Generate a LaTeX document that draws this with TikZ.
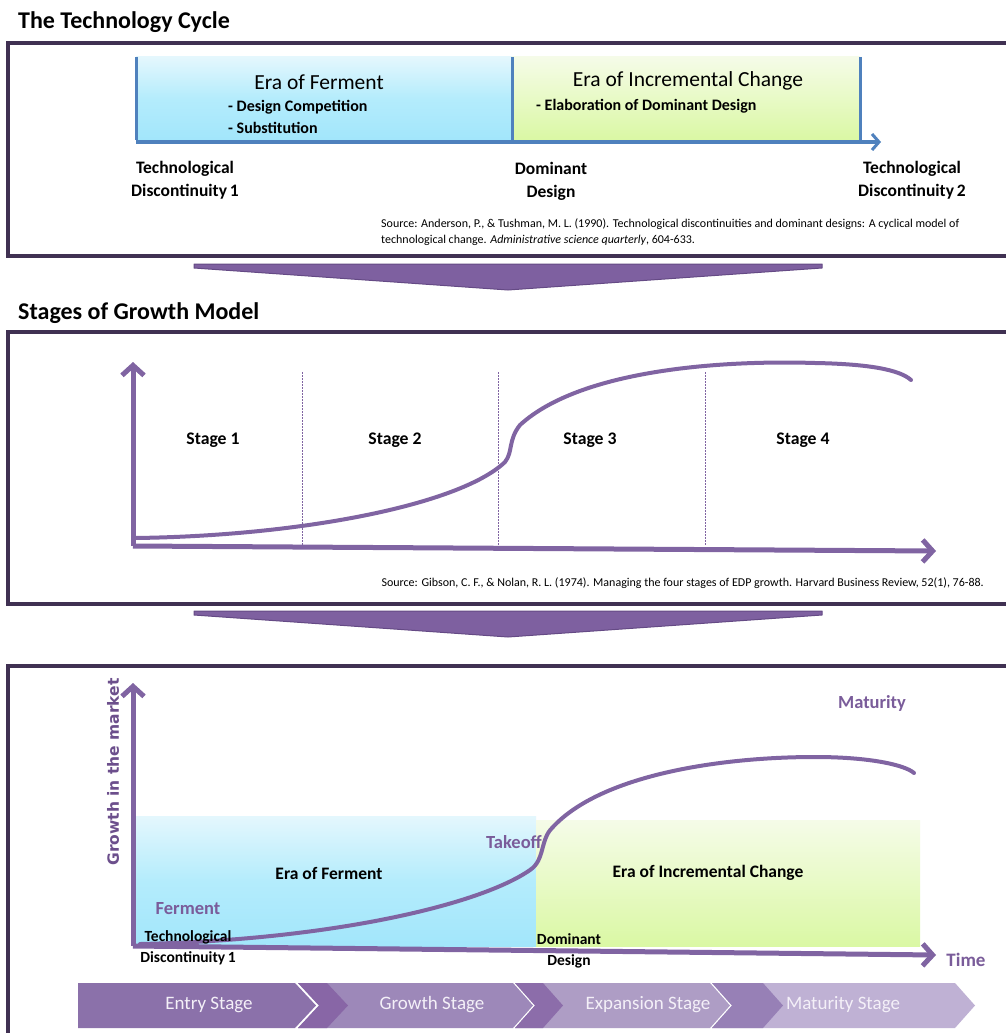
\documentclass[tikz,border=0pt]{standalone}
\usepackage{fontspec}
\setmainfont{Carlito}
\newfontfamily\verdfont{DejaVu Sans}
\usetikzlibrary{arrows.meta}
\definecolor{boxc}{HTML}{403152}
\definecolor{axc}{HTML}{8064A2}
\definecolor{purtxt}{HTML}{7A5C9A}
\definecolor{ylab}{HTML}{6C4F8C}
\definecolor{bluel}{HTML}{4F81BD}
\definecolor{arrowc}{HTML}{7E60A0}
\definecolor{arrowe}{HTML}{654A85}
\definecolor{bluetop}{HTML}{E4F7FD}
\definecolor{bluemid}{HTML}{B4ECFC}
\definecolor{bluebot}{HTML}{A2E6FB}
\definecolor{greentop}{HTML}{F5FBE8}
\definecolor{greenmid}{HTML}{E8FAC6}
\definecolor{greenbot}{HTML}{DAF8A4}
\definecolor{chA}{HTML}{8B71AA}
\definecolor{chB}{HTML}{9D88B9}
\definecolor{chC}{HTML}{AE9DC5}
\definecolor{chD}{HTML}{BFB1D4}
\definecolor{bdB}{HTML}{8866A6}
\definecolor{bdC}{HTML}{8C6DAA}
\definecolor{bdD}{HTML}{9780B6}
\definecolor{chtxt}{HTML}{F4F0F8}
\tikzset{
  boxline/.style={draw=boxc, line width=3.5},
  downarrow/.style={fill=arrowc, draw=arrowe, line width=1, line join=round},
  axisline/.style={draw=axc, line width=5, -{Straight Barb[length=10pt,width=22pt,line width=5pt]}},
  growthcurve/.style={draw=axc, line width=4, line cap=round},
  stagediv/.style={draw=axc, line width=0.8, dash pattern=on 1.5pt off 1.5pt},
  bluerect/.style={top color=bluetop, bottom color=bluebot, middle color=bluemid},
  greenrect/.style={top color=greentop, bottom color=greenbot, middle color=greenmid},
  title/.style={anchor=west, inner sep=0, font=\bfseries\fontsize{24}{26}\selectfont},
  eratitle/.style={font=\fontsize{21.5}{24}\selectfont},
  bullet/.style={anchor=west, inner sep=0, font=\bfseries\fontsize{16}{18}\selectfont},
  milestone/.style={align=center, font=\bfseries\fontsize{17.5}{23}\selectfont},
  source/.style={align=left, font=\fontsize{12}{16}\selectfont, inner sep=0},
  stagelbl/.style={font=\bfseries\fontsize{17.7}{20}\selectfont},
  purlbl/.style={text=purtxt, font=\bfseries\fontsize{18.5}{20}\selectfont},
  blacklbl/.style={font=\bfseries\fontsize{17.5}{20}\selectfont},
  smalllbl/.style={align=center, font=\bfseries\fontsize{15.5}{20.5}\selectfont},
  chevtext/.style={text=chtxt, font=\fontsize{19}{21}\selectfont},
}
\begin{document}
\begin{tikzpicture}[x=1pt,y=-1pt]
\useasboundingbox (0,0) rectangle (1006,1033);
\clip (0,0) rectangle (1006,1033);
\fill[white] (0,0) rectangle (1006,1033);

% ---------- Panel 1 ----------
\node[title] (t1) at (18,22) {The Technology Cycle};
\draw[boxline] (8,43) rectangle (1020,256);
\shade[bluerect] (136,57) rectangle (512,140);
\shade[greenrect] (512,57) rectangle (860,140);
\coordinate (p1a) at (136,57);
\coordinate (p1b) at (136,140);
\coordinate (p1c) at (512,57);
\coordinate (p1d) at (512,140);
\coordinate (p1e) at (860,57);
\coordinate (p1f) at (860,140);
\coordinate (p1s) at (136,142);
\coordinate (p1t) at (881,142);
\draw[bluel, line width=3] (p1a) -- (p1b);
\draw[bluel, line width=3] (p1c) -- (p1d);
\draw[bluel, line width=3] (p1e) -- (p1f);
\draw[bluel, line width=3.5, -{Straight Barb[length=7pt,width=16pt,line width=3pt]}] (p1s) -- (p1t);
\node[eratitle] (ef1) at (319,82) {Era of Ferment};
\node[bullet] (dc1) at (228,107) {- Design Competition};
\node[bullet] (sb1) at (228,128) {- Substitution};
\node[eratitle] (ei1) at (688,81) {Era of Incremental Change};
\node[bullet] (el1) at (536,106) {- Elaboration of Dominant Design};
\node[milestone] (td1) at (185,180) {Technological\\Discontinuity\,1};
\node[milestone] (dd1) at (551,181) {Dominant\\Design};
\node[milestone] (td2) at (912,180) {Technological\\Discontinuity\,2};
\node[source, anchor=north west] (src1) at (381,219) {Source: Anderson, P., \& Tushman, M. L. (1990). Technological discontinuities and dominant designs: A cyclical model of\\technological change. \textit{Administrative science quarterly}, 604-633.};

\draw[downarrow] (194,264) -- (822,264) -- (822,268) -- (508,290) -- (194,268) -- cycle;

% ---------- Panel 2 ----------
\node[title] (t2) at (18,313) {Stages of Growth Model};
\draw[boxline] (8,332) rectangle (1020,604);
\coordinate (o2) at (133,546);
\coordinate (y2) at (133,362);
\coordinate (x2) at (936,551);
\foreach \xx/\nm in {302/d1,498/d2,705/d3}{
  \coordinate (\nm t) at (\xx,372);
  \coordinate (\nm b) at (\xx,546);
  \draw[stagediv] (\nm t) -- (\nm b);
}
\draw[growthcurve] (135,538) .. controls (300,536) and (460,505) .. (505,462)
  .. controls (513,452) and (508,440) .. (520,425)
  .. controls (580,370) and (720,360) .. (815,363)
  .. controls (870,364) and (900,370) .. (911,380);
\draw[axisline] (o2) -- (y2);
\draw[axisline] (o2) -- (x2);
\node[stagelbl] (s1) at (213,440) {Stage 1};
\node[stagelbl] (s2) at (395,440) {Stage 2};
\node[stagelbl] (s3) at (590,440) {Stage 3};
\node[stagelbl] (s4) at (803,440) {Stage 4};
\node[source, anchor=east] (src2) at (984,583) {Source: Gibson, C. F., \& Nolan, R. L. (1974). Managing the four stages of EDP growth. Harvard Business Review, 52(1), 76-88.};

\draw[downarrow] (194,611) -- (822,611) -- (822,615) -- (508,637) -- (194,615) -- cycle;

% ---------- Panel 3 ----------
\draw[boxline] (8,666) rectangle (1020,1050);
\shade[bluerect] (136,816) rectangle (536,946);
\shade[greenrect] (536,820) rectangle (920,946);
\coordinate (o3) at (133,946);
\coordinate (y3) at (133,683);
\coordinate (x3) at (936,955);
\draw[growthcurve] (140,944) .. controls (330,940) and (480,905) .. (530,870)
  .. controls (545,860) and (540,840) .. (552,828)
  .. controls (600,775) and (720,757) .. (815,757)
  .. controls (870,757) and (905,765) .. (914,773);
\draw[axisline] (o3) -- (y3);
\draw[axisline] (o3) -- (x3);
\node[rotate=90, text=ylab, font=\verdfont\bfseries\fontsize{15.5}{17}\selectfont] (gm) at (113,772) {Growth in the market};
\node[purlbl] (mat) at (872,703) {Maturity};
\node[purlbl] (tko) at (514,842) {Takeoff};
\node[purlbl] (fer) at (188,909) {Ferment};
\node[purlbl, font=\bfseries\fontsize{19}{21}\selectfont] (tim) at (966,960) {Time};
\node[blacklbl] (ef3) at (329,873) {Era of Ferment};
\node[blacklbl] (ei3) at (708,873) {Era of Incremental Change};
\node[smalllbl] (td3) at (188,948) {Technological\\Discontinuity\,1};
\node[smalllbl] (dd3) at (569,951) {Dominant\\Design};

% ---------- Chevrons ----------
\fill[chA] (78,983) -- (295,983) -- (316,1005.5) -- (295,1028) -- (78,1028) -- cycle;
\fill[chB] (298,983) -- (513,983) -- (533,1005.5) -- (513,1028) -- (298,1028) -- (319,1005.5) -- cycle;
\fill[bdB] (298,983) -- (327,983) -- (348,1005.5) -- (327,1028) -- (298,1028) -- (319,1005.5) -- cycle;
\fill[chC] (515,983) -- (710,983) -- (730,1005.5) -- (710,1028) -- (515,1028) -- (535,1005.5) -- cycle;
\fill[bdC] (515,983) -- (543,983) -- (563,1005.5) -- (543,1028) -- (515,1028) -- (535,1005.5) -- cycle;
\fill[chD] (712,983) -- (955,983) -- (975,1005.5) -- (955,1028) -- (712,1028) -- (732,1005.5) -- cycle;
\fill[bdD] (712,983) -- (763,983) -- (783,1005.5) -- (763,1028) -- (712,1028) -- (732,1005.5) -- cycle;
\node[chevtext] (c1) at (209,1005) {Entry Stage};
\node[chevtext] (c2) at (432,1005) {Growth Stage};
\node[chevtext] (c3) at (648,1005) {Expansion Stage};
\node[chevtext] (c4) at (843,1005) {Maturity Stage};
\end{tikzpicture}
\end{document}
